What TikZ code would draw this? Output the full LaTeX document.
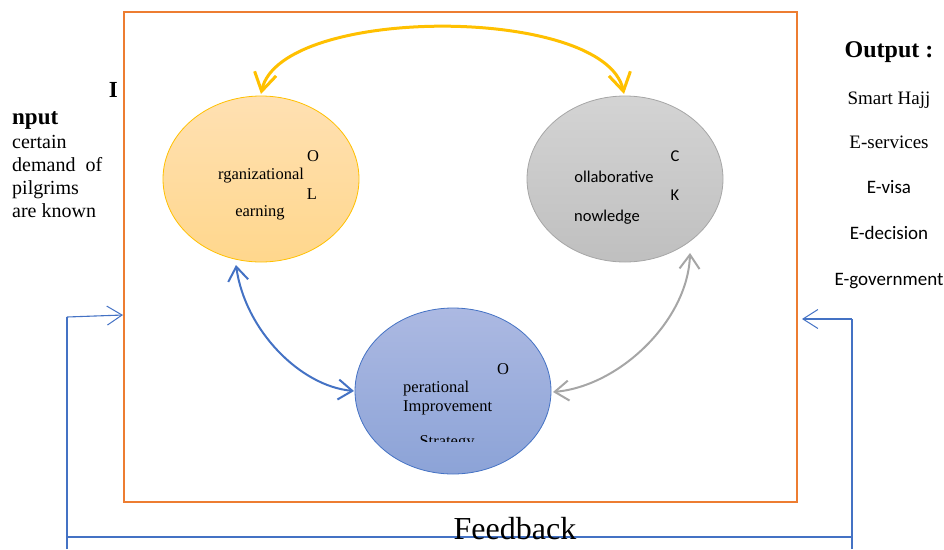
\documentclass[tikz,border=0pt]{standalone}
\usepackage{fontspec}
\setmainfont{Liberation Serif}
\newfontfamily\calib{Carlito}
\usetikzlibrary{arrows.meta,shapes.geometric}
\definecolor{frameorange}{HTML}{ED7D31}
\definecolor{gold}{HTML}{FFC000}
\definecolor{ablue}{HTML}{4472C4}
\definecolor{agrey}{HTML}{A6A6A6}
\tikzset{
  ell/.style={ellipse, draw, line width=0.8pt, minimum width=196pt, minimum height=166pt},
  bigbarb/.tip={Straight Barb[length=18pt,width=22pt,line width=3pt]},
  smallbarb/.tip={Straight Barb[length=14pt,width=20pt,line width=2pt]},
  thinbarb/.tip={Straight Barb[length=15pt,width=19pt,line width=1pt]},
  txt/.style={inner sep=0pt, anchor=base},
  ser/.style={txt, font=\fontsize{16.5}{18}\selectfont},
  sans/.style={txt, font=\calib\fontsize{16.5}{18}\selectfont},
  intxt/.style={txt, anchor=base west, font=\fontsize{20}{22}\selectfont},
  outser/.style={txt, font=\fontsize{19}{21}\selectfont},
  outsans/.style={txt, font=\calib\fontsize{19}{21}\selectfont},
  fb/.style={ablue, line width=1.1pt}
}
\begin{document}
\begin{tikzpicture}[x=1pt,y=-1pt]
\useasboundingbox (0,0) rectangle (944,549);
% frame
\node[draw=frameorange, line width=1.1pt, minimum width=673pt, minimum height=490pt, inner sep=0pt] (frame) at (460.5,257) {};
% ellipses
\node[ell, draw=gold, top color=yellow!20!orange!30!white, bottom color=yellow!30!orange!45!white] (ol) at (261,179) {};
\node[ell, draw=agrey, top color=black!17, bottom color=black!25] (ck) at (625,179) {};
\node[ell, draw=ablue, top color={rgb,255:red,172;green,185;blue,226}, bottom color={rgb,255:red,140;green,163;blue,215}] (oi) at (453,391) {};
% ellipse texts
\node[ser] (o1) at (313,161) {O};
\node[ser] (o2) at (261,179) {rganizational};
\node[ser] (o3) at (312,199) {L};
\node[ser] (o4) at (260,216) {earning};
\node[sans] (c1) at (675,161) {C};
\node[sans] (c2) at (614,182) {ollaborative};
\node[sans] (c3) at (675,200) {K};
\node[sans] (c4) at (607,221) {nowledge};
\node[ser] (p1) at (503,374) {O};
\node[ser, anchor=base west] (p2) at (403,392) {perational};
\node[ser, anchor=base west] (p3) at (403,411) {Improvement};
\begin{scope}
\clip (380,420) rectangle (520,441.5);
\node[ser] (p4) at (447,446) {Strategy};
\end{scope}
% coordinates for arrow ends
\coordinate (ytl) at (261,94);
\coordinate (ytr) at (624,94);
\coordinate (bt) at (236,265);
\coordinate (bb) at (354,391);
\coordinate (gt) at (690,253);
\coordinate (gb) at (553,392);
% yellow arc
\draw[gold, line width=3pt, {bigbarb}-{bigbarb}]
  (ytl) .. controls (280,5) and (605,5) .. (ytr);
% blue arc
\draw[ablue, line width=2pt, {smallbarb}-{smallbarb}]
  (bt) .. controls (245,330) and (300,386) .. (bb);
% grey arc
\draw[agrey, line width=2pt, {smallbarb}-{smallbarb}]
  (gt) .. controls (688,320) and (620,386) .. (gb);
% feedback loop
\coordinate (fl) at (67,549);
\coordinate (fltop) at (67,317);
\coordinate (flbot) at (67,537);
\coordinate (fr) at (852,549);
\coordinate (frtop) at (852,319);
\coordinate (frbot) at (852,537);
\coordinate (inl) at (123,315);
\coordinate (inr) at (802,319);
\draw[fb] (fl) -- (fltop);
\draw[fb, -{thinbarb}] (fltop) -- (inl);
\draw[fb] (fr) -- (frtop);
\draw[fb, -{thinbarb}] (frtop) -- (inr);
\draw[fb] (flbot) -- (frbot);
\node[txt, font=\fontsize{32}{34}\selectfont] (feed) at (515,539) {Feedback};
% input text
\node[txt, anchor=base east, font=\bfseries\fontsize{23}{25}\selectfont] (i1) at (118,97) {I};
\node[intxt, font=\bfseries\fontsize{23}{25}\selectfont] (i2) at (12,124) {nput};
\node[intxt] (i3) at (12,148) {certain};
\node[intxt] (i4) at (12,171) {demand\ \ of};
\node[intxt] (i5) at (12,194) {pilgrims};
\node[intxt] (i6) at (12,217) {are known};
% output text
\node[txt, font=\bfseries\fontsize{24}{26}\selectfont] (out) at (889,57) {Output :};
\node[outser] (s1) at (889,104) {Smart Hajj};
\node[outser] (s2) at (889,148) {E-services};
\node[outsans] (s3) at (889,193) {E-visa};
\node[outsans] (s4) at (889,239) {E-decision};
\node[outsans] (s5) at (889,285) {E-government};
\end{tikzpicture}
\end{document}
